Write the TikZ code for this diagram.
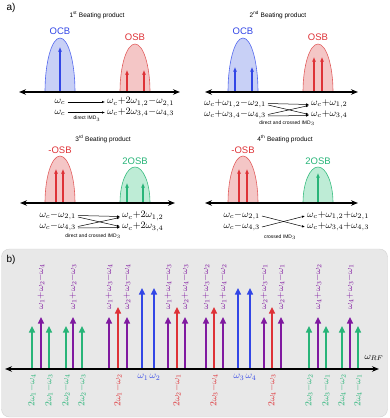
\RequirePackage{fix-cm}
\documentclass[tikz,border=0pt]{standalone}
\usepackage[no-math]{fontspec}
\setmainfont{Liberation Sans}
\usetikzlibrary{arrows.meta}
\definecolor{cblue}{RGB}{50,70,230}
\definecolor{cred}{RGB}{222,50,55}
\definecolor{cgreen}{RGB}{40,180,120}
\definecolor{cpurple}{RGB}{128,25,160}
\definecolor{fblue}{RGB}{200,208,246}
\definecolor{fred}{RGB}{244,198,198}
\definecolor{fgreen}{RGB}{190,236,214}
\definecolor{lblue}{RGB}{85,105,238}
\definecolor{lred}{RGB}{226,95,95}
\definecolor{lgreen}{RGB}{60,190,130}
\definecolor{panelgray}{RGB}{232,232,232}
\newcommand\mylobe[4]{\filldraw[#4] (#1-15,#2) arc[start angle=180,end angle=0,x radius=15,y radius=#3];}
\tikzset{
  axisline/.style={line width=1.1pt,{Stealth[length=7pt,width=5.5pt]}-{Stealth[length=7pt,width=5.5pt]}},
  lobeB/.style={fill=fblue,draw=lblue,line width=0.6pt},
  lobeR/.style={fill=fred,draw=lred,line width=0.6pt},
  lobeG/.style={fill=fgreen,draw=lgreen,line width=0.6pt},
  spec/.style={line width=1.1pt,-{Latex[length=4.5pt,width=4pt]}},
  tarrow/.style={line width=0.5pt,-{Latex[length=3pt,width=2.4pt]}},
  mtxt/.style={font=\fontsize{9.8}{11}\selectfont,inner xsep=2pt,inner ysep=0pt},
  ttl/.style={font=\fontsize{6.5}{8}\selectfont},
  imdlbl/.style={font=\fontsize{5}{6}\selectfont},
  bandlbl/.style={font=\fontsize{9.5}{11}\selectfont},
  panellbl/.style={font=\fontsize{10}{12}\selectfont},
  barrow/.style={line width=1.4pt,-{Triangle[length=6.5pt,width=6pt]}},
  rlab/.style={rotate=90,inner sep=1pt,font=\fontsize{9.3}{10}\selectfont},
  blab/.style={inner sep=1pt,font=\fontsize{10}{11}\selectfont,text=cblue},
}
\begin{document}
\begin{tikzpicture}[x=1pt,y=1pt]
\useasboundingbox (0,0) rectangle (389,-418);
\node[panellbl] (pa) at (11,-8) {a)};
% ---------- 1st
\node[ttl] (t1) at (97,-15) {1\textsuperscript{st} Beating product};
\mylobe{60}{-92}{54}{lobeB}
\mylobe{135}{-92}{48}{lobeR}
\node[bandlbl,text=cblue] (ocb1) at (60,-31) {OCB};
\node[bandlbl,text=cred] (osb1) at (135,-37) {OSB};
\draw[spec,cblue] (60,-92) -- (60,-47);
\draw[spec,cred] (127,-92) -- (127,-70);
\draw[spec,cred] (144,-92) -- (144,-70);
\draw[axisline] (19,-92) -- (180,-92);
\node[mtxt] (a1l) at (60,-102) {$\omega_c$};
\node[mtxt] (a2l) at (60,-112.5) {$\omega_c$};
\node[mtxt,anchor=west] (a1r) at (105,-102) {$\omega_c{+}2\omega_{1,2}{-}\omega_{2,1}$};
\node[mtxt,anchor=west] (a2r) at (105,-112.5) {$\omega_c{+}2\omega_{3,4}{-}\omega_{4,3}$};
\draw[tarrow] (a1l.east) -- (a1r.west);
\draw[tarrow] (a2l.east) -- (a2r.west);
\node[imdlbl] (i1) at (87,-118.5) {direct IMD$_3$};
% ---------- 2nd
\node[ttl] (t2) at (278,-15) {2\textsuperscript{nd} Beating product};
\mylobe{243}{-92}{54}{lobeB}
\mylobe{318}{-92}{48}{lobeR}
\node[bandlbl,text=cblue] (ocb2) at (243,-31) {OCB};
\node[bandlbl,text=cred] (osb2) at (318,-37) {OSB};
\draw[spec,cblue] (235,-92) -- (235,-67);
\draw[spec,cblue] (252,-92) -- (252,-67);
\draw[spec,cred] (314,-92) -- (314,-57);
\draw[spec,cred] (322,-92) -- (322,-57);
\draw[axisline] (205,-92) -- (358,-92);
\node[mtxt,anchor=east] (b1l) at (268,-104) {$\omega_c{+}\omega_{1,2}{-}\omega_{2,1}$};
\node[mtxt,anchor=east] (b2l) at (268,-115) {$\omega_c{+}\omega_{3,4}{-}\omega_{4,3}$};
\node[mtxt,anchor=west] (b1r) at (309,-104) {$\omega_c{+}\omega_{1,2}$};
\node[mtxt,anchor=west] (b2r) at (309,-115) {$\omega_c{+}\omega_{3,4}$};
\draw[tarrow] ([yshift=0.5pt]b1l.east) -- ([yshift=-0.5pt]b1r.west);
\draw[tarrow] ([yshift=-1pt]b1l.east) -- ([yshift=0.5pt]b2r.west);
\draw[tarrow] ([yshift=0.5pt]b2l.east) -- ([yshift=-1.5pt]b1r.west);
\draw[tarrow] ([yshift=-1pt]b2l.east) -- ([yshift=-0.5pt]b2r.west);
\node[imdlbl] (i2) at (287,-123) {direct and crossed IMD$_3$};
% ---------- 3rd
\node[ttl] (t3) at (103,-139) {3\textsuperscript{rd} Beating product};
\mylobe{60}{-203}{47}{lobeR}
\mylobe{135}{-203}{36}{lobeG}
\node[bandlbl,text=cred] (osb3) at (60,-150) {-OSB};
\node[bandlbl,text=cgreen] (osb3b) at (135,-161) {2OSB};
\draw[spec,cred] (56,-203) -- (56,-169);
\draw[spec,cred] (63,-203) -- (63,-169);
\draw[spec,cgreen] (127,-203) -- (127,-183);
\draw[spec,cgreen] (143,-203) -- (143,-183);
\draw[axisline] (20,-203) -- (175,-203);
\node[mtxt,anchor=east] (c1l) at (78,-216) {$\omega_c{-}\omega_{2,1}$};
\node[mtxt,anchor=east] (c2l) at (78,-227) {$\omega_c{-}\omega_{4,3}$};
\node[mtxt,anchor=west] (c1r) at (120,-216) {$\omega_c{+}2\omega_{1,2}$};
\node[mtxt,anchor=west] (c2r) at (120,-227) {$\omega_c{+}2\omega_{3,4}$};
\draw[tarrow] ([yshift=0.5pt]c1l.east) -- ([yshift=-0.5pt]c1r.west);
\draw[tarrow] ([yshift=-1pt]c1l.east) -- ([yshift=0.5pt]c2r.west);
\draw[tarrow] ([yshift=0.5pt]c2l.east) -- ([yshift=-1.5pt]c1r.west);
\draw[tarrow] ([yshift=-1pt]c2l.east) -- ([yshift=-0.5pt]c2r.west);
\node[imdlbl] (i3) at (93,-236) {direct and crossed IMD$_3$};
% ---------- 4th
\node[ttl] (t4) at (285,-139) {4\textsuperscript{th} Beating product};
\mylobe{243}{-203}{47}{lobeR}
\mylobe{318}{-203}{36}{lobeG}
\node[bandlbl,text=cred] (osb4) at (243,-150) {-OSB};
\node[bandlbl,text=cgreen] (osb4b) at (318,-161) {2OSB};
\draw[spec,cred] (239,-203) -- (239,-169);
\draw[spec,cred] (247,-203) -- (247,-169);
\draw[spec,cgreen] (318,-203) -- (318,-173);
\draw[axisline] (205,-203) -- (358,-203);
\node[mtxt,anchor=east] (d1l) at (262,-216) {$\omega_c{-}\omega_{2,1}$};
\node[mtxt,anchor=east] (d2l) at (262,-227) {$\omega_c{-}\omega_{4,3}$};
\node[mtxt,anchor=west] (d1r) at (305,-216) {$\omega_c{+}\omega_{1,2}{+}\omega_{2,1}$};
\node[mtxt,anchor=west] (d2r) at (305,-227) {$\omega_c{+}\omega_{3,4}{+}\omega_{4,3}$};
\draw[tarrow] (d1l.east) -- (d2r.west);
\draw[tarrow] (d2l.east) -- (d1r.west);
\node[imdlbl] (i4) at (280,-237) {crossed IMD$_3$};
% ---------- panel b
\filldraw[fill=panelgray,draw=gray!35,line width=0.4pt,rounded corners=8pt] (1.5,-249) rectangle (387.5,-417);
\node[panellbl] (pb) at (11,-260) {b)};
\foreach \x/\l [count=\i] in {32/2\omega_1{-}\omega_4,49/2\omega_1{-}\omega_3,66/2\omega_2{-}\omega_4,82/2\omega_2{-}\omega_3,309/2\omega_3{-}\omega_2,326/2\omega_3{-}\omega_1,342/2\omega_4{-}\omega_2,358/2\omega_4{-}\omega_1}{
  \draw[barrow,cgreen] (\x,-369) -- (\x,-326);
  \node[rlab,anchor=east,text=cgreen] (g\i) at (\x,-372.5) {$\l$};
}
\foreach \x/\l [count=\i] in {41/\omega_1{+}\omega_2{-}\omega_4,73/\omega_1{+}\omega_2{-}\omega_3,109/\omega_1{+}\omega_3{-}\omega_4,127/\omega_2{+}\omega_3{-}\omega_4,168/\omega_1{+}\omega_4{-}\omega_3,185/\omega_2{+}\omega_4{-}\omega_3,206/\omega_1{+}\omega_3{-}\omega_2,223/\omega_1{+}\omega_4{-}\omega_2,264/\omega_2{+}\omega_3{-}\omega_1,281/\omega_2{+}\omega_4{-}\omega_1,318/\omega_4{+}\omega_3{-}\omega_2,350/\omega_4{+}\omega_3{-}\omega_1}{
  \draw[barrow,cpurple] (\x,-369) -- (\x,-317);
  \node[rlab,anchor=west,text=cpurple] (p\i) at (\x,-311) {$\l$};
}
\foreach \x/\l [count=\i] in {118/2\omega_1{-}\omega_2,177/2\omega_2{-}\omega_1,214/2\omega_3{-}\omega_4,272/2\omega_4{-}\omega_3}{
  \draw[barrow,cred] (\x,-369) -- (\x,-307);
  \node[rlab,anchor=east,text=cred] (r\i) at (\x,-372.5) {$\l$};
}
\foreach \x/\l [count=\i] in {142/\omega_1,154/\omega_2,238/\omega_3,250/\omega_4}{
  \draw[barrow,cblue] (\x,-369) -- (\x,-288);
  \node[blab] (w\i) at (\x+1,-377.5) {$\l$};
}
\draw[line width=1.2pt,{Stealth[length=7pt,width=5.5pt]}-{Stealth[length=7pt,width=5.5pt]}] (5,-369) -- (379,-369);
\node[font=\fontsize{9.5}{10}\selectfont,inner sep=1pt] (wrf) at (374,-358) {$\omega_{RF}$};
\end{tikzpicture}
\end{document}
